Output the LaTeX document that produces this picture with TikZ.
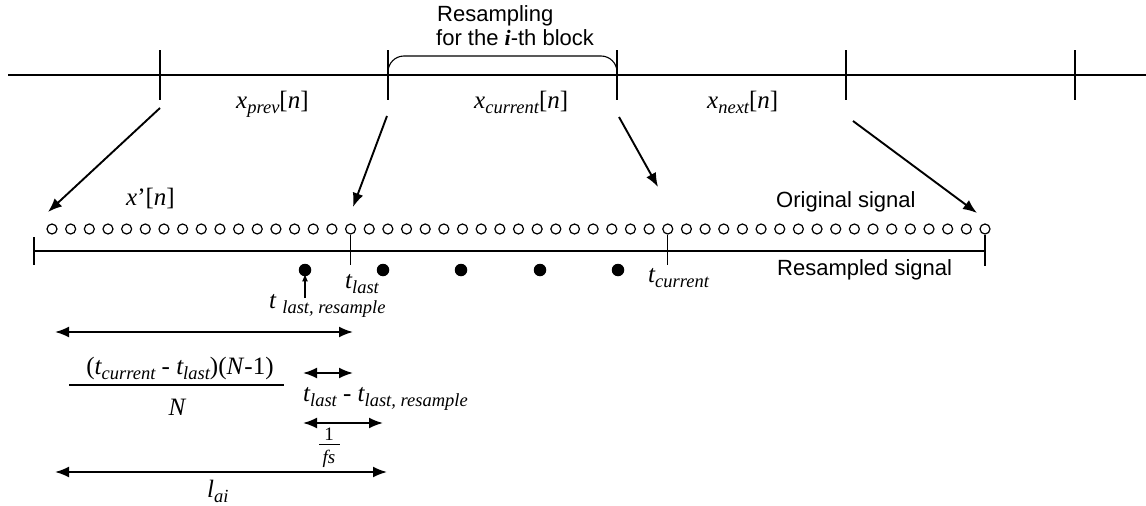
\documentclass[tikz,border=0pt]{standalone}
\usepackage{fontspec}
\setmainfont{Liberation Serif}
\setsansfont{Liberation Sans}
\usetikzlibrary{arrows.meta}

% lowered, smaller subscript text
\newcommand{\lo}[1]{\raisebox{-0.22em}{\fontsize{18.5}{18.5}\selectfont #1}}

\tikzset{
  axis/.style={line width=1.1pt},
  bigarrow/.style={line width=1.9pt,-{Latex[length=14pt,width=11pt]}},
  dblarrow/.style={line width=1.9pt,{Latex[length=14pt,width=11pt]}-{Latex[length=14pt,width=11pt]}},
  uparrow/.style={line width=1.4pt,-{Latex[length=8pt,width=6pt]}},
  sample/.style={circle,draw,line width=1.2pt,inner sep=0pt,minimum size=10pt},
  rsample/.style={circle,fill,inner sep=0pt,minimum size=12.5pt},
  sans/.style={font=\sffamily\fontsize{22}{24}\selectfont,inner sep=0pt},
  mlab/.style={font=\fontsize{25}{25}\selectfont\itshape,inner sep=0pt},
  smalllab/.style={font=\fontsize{19}{19}\selectfont\itshape,inner sep=0pt},
}

\begin{document}
\begin{tikzpicture}[x=1pt,y=-1pt]
\useasboundingbox (0,0) rectangle (1146,506);

% block axis with block boundaries
\coordinate (axL) at (8,75);
\coordinate (axR) at (1146,75);
\draw[axis] (axL) -- (axR);
\foreach \n/\x in {k1/160,k2/388,k3/617,k4/846,k5/1075}{
  \coordinate (\n t) at (\x,50);
  \coordinate (\n b) at (\x,100);
  \draw[axis] (\n t) -- (\n b);
}

% brace over the current block
\draw[axis,rounded corners=16pt] (k2t |- axL) -- (388,56) -- (617,56) -- (k3t |- axL);
\node[sans,anchor=base west] (title1) at (437,21) {Resampling};
\node[sans,anchor=base west] (title2) at (436,45)
  {for the {\rmfamily\bfseries\itshape i}-th block};

% block labels
\node[mlab,anchor=base west] (xprev) at (236,108) {x\lo{prev}\textup{[}n\textup{]}};
\node[mlab,anchor=base west] (xcur) at (474,108) {x\lo{current}\textup{[}n\textup{]}};
\node[mlab,anchor=base west] (xnext) at (707,108) {x\lo{next}\textup{[}n\textup{]}};

% original samples
\foreach \i in {0,...,50}
  \node[sample] (c\i) at ({52+\i*18.66},229) {};

% arrows from the block boundaries down to the samples
\coordinate (a1s) at (160,108);  \coordinate (a1e) at (48,212);
\coordinate (a2s) at (387,116);  \coordinate (a2e) at (353,207);
\coordinate (a3s) at (619,117);  \coordinate (a3e) at (658,187);
\coordinate (a4s) at (853,121);  \coordinate (a4e) at (977,213);
\draw[bigarrow] (a1s) -- (a1e);
\draw[bigarrow] (a2s) -- (a2e);
\draw[bigarrow] (a3s) -- (a3e);
\draw[bigarrow] (a4s) -- (a4e);

\node[mlab,anchor=base west] (xp) at (126,205) {x\textup{’[}n\textup{]}};
\node[sans,anchor=base west] (orig) at (776,207) {Original signal};

% resampled time axis
\coordinate (rL) at (34,251);
\coordinate (rR) at (c50 |- rL);
\draw[axis] (rL) -- (rR);
\draw[axis] (34,237) -- (34,265);
\draw[axis] (c50.south) -- (c50 |- 0,266);
\draw[axis] (c16.south) -- (c16 |- 0,265);
\draw[axis] (c33.south) -- (c33 |- 0,265);
\node[sans,anchor=base west] (resl) at (777,275) {Resampled signal};

% resampled samples
\foreach \k/\x in {0/305,1/383,2/461,3/540,4/618}
  \node[rsample] (d\k) at (\x,270) {};

\coordinate (upS) at (305,298);
\draw[uparrow] (upS) -- ([yshift=3pt]d0.south);

\node[mlab,anchor=base west] (tlast) at (345,288) {t\lo{last}};
\node[mlab,anchor=base west] (tcur) at (648,282) {t\lo{current}};
\node[mlab,anchor=base west] (tlr) at (269,308) {t \lo{last, resample}};

% interval lengths
\coordinate (m1a) at (55,332);  \coordinate (m1b) at (353,332);
\draw[dblarrow] (m1a) -- (m1b);

\node[mlab,anchor=base] (num) at (180,374)
  {\textup{(}t\lo{current}\textup{ - }t\lo{last}\textup{)(}N\textup{-1)}};
\coordinate (fbL) at (69,385); \coordinate (fbR) at (284,385);
\draw[line width=1.1pt] (fbL) -- (fbR);
\node[mlab,anchor=base] (den) at (177,415) {N};

\coordinate (m2a) at (303,373); \coordinate (m2b) at (353,373);
\draw[dblarrow] (m2a) -- (m2b);
\node[mlab,anchor=base west] (diff) at (303,401)
  {t\lo{last}\textup{ - }t\lo{last, resample}};

\coordinate (m3a) at (303,423); \coordinate (m3b) at (383,423);
\draw[dblarrow] (m3a) -- (m3b);
\node[smalllab,anchor=base] (one) at (329,440) {\textup{1}};
\coordinate (obL) at (319,444); \coordinate (obR) at (340,444);
\draw[line width=0.9pt] (obL) -- (obR);
\node[smalllab,anchor=base] (fs) at (329,463) {fs};

\coordinate (m4a) at (55,472); \coordinate (m4b) at (387,472);
\draw[dblarrow] (m4a) -- (m4b);
\node[mlab,anchor=base west] (lai) at (207,497) {l\lo{ai}};
\end{tikzpicture}
\end{document}
